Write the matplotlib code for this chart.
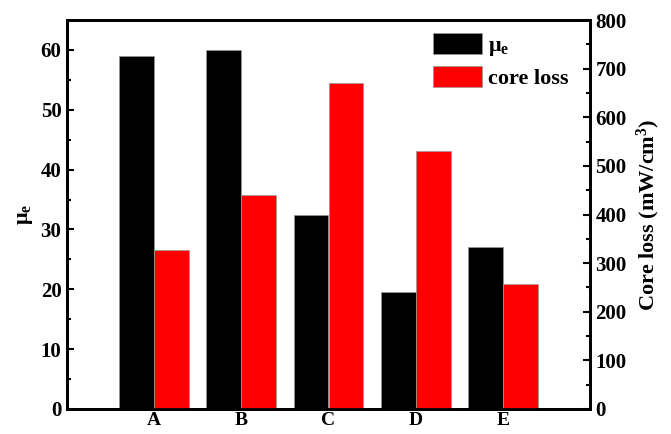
import matplotlib.pyplot as plt
import numpy as np
from matplotlib.ticker import MultipleLocator

plt.rcParams['font.family'] = 'Liberation Serif'
plt.rcParams['font.weight'] = 'bold'
plt.rcParams['mathtext.fontset'] = 'custom'
plt.rcParams['mathtext.rm'] = 'Liberation Serif:bold'
plt.rcParams['mathtext.it'] = 'Liberation Serif:bold'
plt.rcParams['mathtext.bf'] = 'Liberation Serif:bold'

samples = ['A', 'B', 'C', 'D', 'E']
mu_e = [59.0, 60.0, 32.5, 19.6, 27.0]
core_loss = [328, 441, 671, 531, 258]

x = np.arange(1, len(samples) + 1)
w = 0.4

fig = plt.figure(figsize=(6.71, 4.34), dpi=100)
ax = fig.add_axes([67/671, 25/434, 523/671, 389/434])
ax2 = ax.twinx()

b1 = ax.bar(x - w/2, mu_e, w, color='black', edgecolor='#999999', linewidth=0.5)
b2 = ax2.bar(x + w/2, core_loss, w, color='red', edgecolor='#999999', linewidth=0.5)

ax.set_xlim(0, 6)
ax.set_ylim(0, 65)
ax2.set_ylim(0, 800)
ax.set_xticks(x)
ax.set_xticklabels(samples)
ax.yaxis.set_major_locator(MultipleLocator(10))
ax.yaxis.set_minor_locator(MultipleLocator(5))
ax2.yaxis.set_major_locator(MultipleLocator(100))
ax2.yaxis.set_minor_locator(MultipleLocator(50))

ax.tick_params(axis='x', length=0, labelsize=14, pad=2)
for a in (ax, ax2):
    a.tick_params(axis='y', which='both', direction='in', labelsize=15, width=1.5, pad=4)
    a.tick_params(axis='y', which='major', length=5)
    a.tick_params(axis='y', which='minor', length=3)
    for s in a.spines.values():
        s.set_linewidth(2)

ax.set_ylabel(r'$\mathregular{\mu_e}$', fontsize=16, fontweight='bold', labelpad=4)
ax2.set_ylabel(r'Core loss (mW/cm$\mathregular{^3}$)', fontsize=16, fontweight='bold', labelpad=6)

ax2.legend([b1, b2], [r'$\mathregular{\mu_e}$', 'core loss'], loc='upper left',
           bbox_to_anchor=(0.70, 0.967), frameon=False, fontsize=16,
           borderpad=0, borderaxespad=0,
           handlelength=2.2, handleheight=1.1, handletextpad=0.25, labelspacing=0.35)

fig.savefig('out.png', dpi=100)
